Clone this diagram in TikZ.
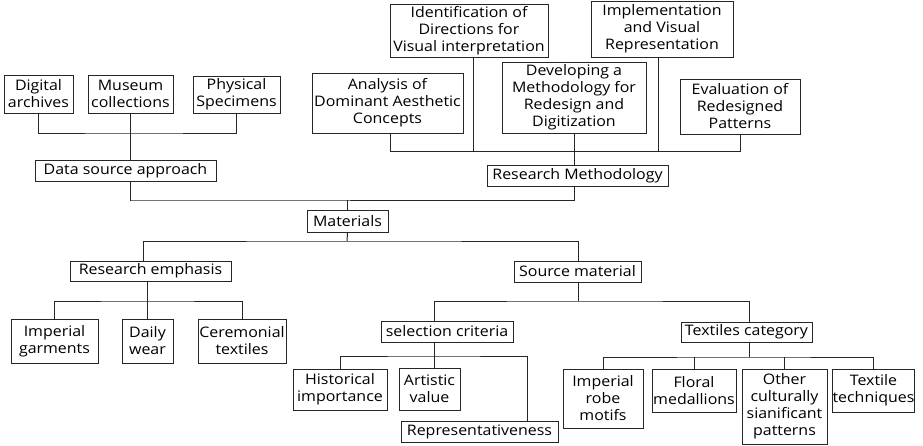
\documentclass[tikz,border=0pt]{standalone}
\usepackage{fontspec}
\setmainfont[FakeStretch=1.1]{Open Sans}
\begin{document}
\begin{tikzpicture}[x=1pt,y=-1pt,
  box/.style={draw=black!85,line width=1pt,inner sep=0pt,align=center,
    font=\fontsize{14.5}{17}\selectfont},
  wh/.style 2 args={minimum width=#1pt,minimum height=#2pt},
  link/.style={draw=black!85,line width=1pt}]
\useasboundingbox (0,0) rectangle (923,445);
% top-left tree
\node[box,wh={69}{38}] (digital) at (38.5,94) {Digital\\archives};
\node[box,wh={85}{38}] (museum) at (130.5,94) {Museum\\collections};
\node[box,wh={87}{37}] (physical) at (236.5,94.5) {Physical\\Specimens};
\node[box,wh={181}{21}] (datasrc) at (125.5,170.5) {Data source approach};
% top-right tree
\node[box,wh={158}{53}] (ident) at (469,30.5) {Identification of\\Directions for\\Visual interpretation};
\node[box,wh={142}{56}] (impl) at (662,29) {Implementation\\and Visual\\Representation};
\node[box,wh={151}{60}] (analysis) at (387.5,103) {Analysis of\\Dominant Aesthetic\\Concepts};
\node[box,wh={144}{71}] (develop) at (574,97.5) {Developing a\\Methodology for\\Redesign and\\Digitization};
\node[box,wh={120}{55}] (eval) at (740,106.5) {Evaluation of\\Redesigned\\Patterns};
\node[box,wh={181}{21}] (rm) at (577.5,175.5) {Research Methodology};
% middle
\node[box,wh={81}{22}] (materials) at (347.5,221) {Materials};
\node[box,wh={161}{20}] (resemph) at (150.5,271) {Research emphasis};
\node[box,wh={127}{21}] (source) at (577.5,271.5) {Source material};
% research emphasis children
\node[box,wh={87}{44}] (impgarm) at (54.5,341) {Imperial\\garments};
\node[box,wh={51}{44}] (daily) at (147.5,341) {Daily\\wear};
\node[box,wh={88}{44}] (cerem) at (242,341) {Ceremonial\\textiles};
% source material children
\node[box,wh={132}{21}] (selcrit) at (447,331.5) {selection criteria};
\node[box,wh={131}{20}] (textcat) at (746.5,332) {Textiles category};
\node[box,wh={94}{41}] (hist) at (340,389.5) {Historical\\importance};
\node[box,wh={61}{42}] (artistic) at (429.5,389) {Artistic\\value};
\node[box,wh={157}{21}] (repr) at (479.5,431.5) {Representativeness};
\node[box,wh={80}{59}] (robe) at (603,398.5) {Imperial\\robe\\motifs};
\node[box,wh={84}{43}] (floral) at (694,390.5) {Floral\\medallions};
\node[box,wh={85}{75}] (other) at (784.5,406.5) {Other\\culturally\\sianificant\\patterns};
\node[box,wh={81}{43}] (techn) at (873.5,390.5) {Textile\\techniques};
% bus coordinates
\coordinate (busA) at (131,133);
\coordinate (busB) at (131,200);
\coordinate (busC) at (390,151);
\coordinate (busD) at (347,241);
\coordinate (busE) at (147,301);
\coordinate (busF) at (578,301);
\coordinate (busG) at (434,356);
\coordinate (busH) at (749,357);
% connectors: data source
\draw[link] (digital.south) |- (busA) -| (physical.south);
\draw[link] (museum.south) -- (datasrc.north -| museum.south);
\draw[link] (datasrc.south -| museum.south) |- (busB) -| (rm.south -| develop.south);
\draw[link] (busB -| materials.north) -- (materials.north);
% research methodology
\draw[link] (analysis.south -| busC) |- (busC) -| (eval.south);
\draw[link] (ident.south -| 473,0) -- (busC -| 473,0);
\draw[link] (impl.south -| 658,0) -- (busC -| 658,0);
\draw[link] (develop.south) -- (rm.north -| develop.south);
% materials
\draw[link] (materials.south) -- (busD);
\draw[link] (resemph.north -| 143,0) |- (busD) -| (source.north -| busF);
% research emphasis
\draw[link] (resemph.south -| busE) -- (daily.north -| busE);
\draw[link] (impgarm.north) |- (busE) -| (cerem.north);
% source material
\draw[link] (source.south -| busF) -- (busF);
\draw[link] (selcrit.north -| busG) |- (busF) -| (textcat.north -| busH);
% selection criteria
\draw[link] (selcrit.south -| busG) -- (artistic.north -| busG);
\draw[link] (hist.north) |- (busG) -| (repr.north -| 527,0);
% textiles category
\draw[link] (textcat.south -| busH) -- (busH);
\draw[link] (robe.north) |- (busH) -| (techn.north);
\draw[link] (floral.north) -- (floral.north |- busH);
\draw[link] (other.north) -- (other.north |- busH);
\end{tikzpicture}
\end{document}
